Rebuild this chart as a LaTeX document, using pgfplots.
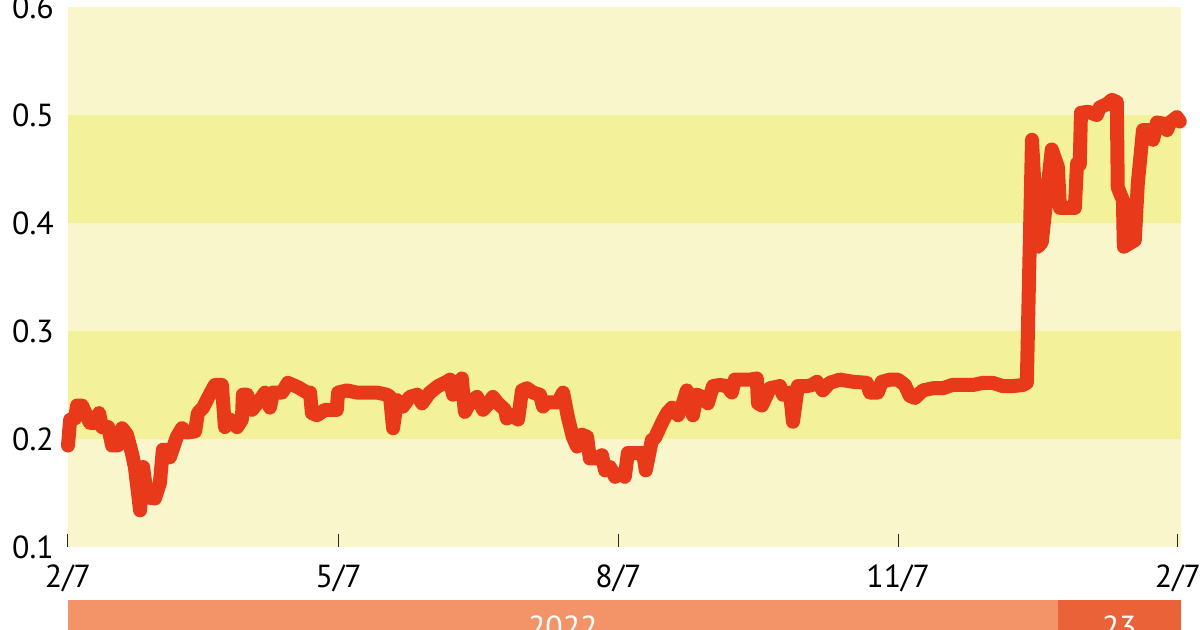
\documentclass[border=0pt]{standalone}
\usepackage{pgfplots}
\pgfplotsset{compat=1.18}
\usepackage{fontspec}
\setmainfont{PT Sans}
\definecolor{bandlight}{RGB}{249,246,203}
\definecolor{banddark}{RGB}{244,241,155}
\definecolor{linered}{RGB}{232,57,26}
\definecolor{yearlight}{RGB}{242,148,104}
\definecolor{yeardark}{RGB}{234,98,55}
\begin{document}
\begin{tikzpicture}
\begin{axis}[
  scale only axis,
  width=1113bp, height=540bp,
  xmin=0, xmax=366, ymin=0.1, ymax=0.6,
  clip=false,
  axis line style={draw=none},
  axis on top,
  xtick={0,89,181,273,365},
  xticklabels={2/7,5/7,8/7,11/7,2/7},
  ytick={0.1,0.2,0.3,0.4,0.5,0.6},
  yticklabels={0.1,0.2,0.3,0.4,0.5,0.6},
  xtick pos=left,
  tick align=inside,
  major tick length=13bp,
  xtick style={draw=black!85, line width=1bp},
  ytick style={draw=none},
  ticklabel style={font=\fontsize{32}{36}\selectfont, inner sep=0pt},
  yticklabel style={anchor=east, xshift=-14bp},
  xticklabel style={anchor=north, yshift=-18bp},
]
% background bands
\addplot[draw=none, fill=bandlight, forget plot] coordinates {(0,0.1)(366,0.1)(366,0.2)(0,0.2)} -- cycle;
\addplot[draw=none, fill=banddark, forget plot] coordinates {(0,0.2)(366,0.2)(366,0.3)(0,0.3)} -- cycle;
\addplot[draw=none, fill=bandlight, forget plot] coordinates {(0,0.3)(366,0.3)(366,0.4)(0,0.4)} -- cycle;
\addplot[draw=none, fill=banddark, forget plot] coordinates {(0,0.4)(366,0.4)(366,0.5)(0,0.5)} -- cycle;
\addplot[draw=none, fill=bandlight, forget plot] coordinates {(0,0.5)(366,0.5)(366,0.6)(0,0.6)} -- cycle;
% year bar
\addplot[draw=none, fill=yearlight, forget plot] coordinates {(0,-0.02)(325.5,-0.02)(325.5,0.051)(0,0.051)} -- cycle;
\addplot[draw=none, fill=yeardark, forget plot] coordinates {(325.5,-0.02)(366,-0.02)(366,0.051)(325.5,0.051)} -- cycle;
\node[anchor=base, text=white, font=\fontsize{32}{36}\selectfont, inner sep=0pt] at (axis cs:162.7,0.0157) {2022};
\node[anchor=base, text=white, font=\fontsize{32}{36}\selectfont, inner sep=0pt] at (axis cs:345.7,0.0157) {23};
% data line
\addplot[color=linered, line width=14bp, line join=round, line cap=round] coordinates {
(0,0.194)(0.7,0.218)(2.3,0.219)(3.0,0.231)(4.6,0.231)(7.2,0.215)(8.9,0.215)(10.2,0.224)
(11.2,0.211)(13.2,0.211)(14.5,0.194)(16.4,0.194)(17.8,0.210)(19.4,0.204)(21.0,0.187)
(22.0,0.174)(23.7,0.134)(24.7,0.174)(26.0,0.146)(28.6,0.145)(30.2,0.159)(31.2,0.190)
(32.6,0.190)(33.5,0.183)(35.8,0.202)(37.5,0.210)(39.1,0.206)(41.8,0.207)(42.7,0.224)
(44.4,0.229)(46.0,0.238)(48.3,0.250)(50.6,0.250)(51.6,0.211)(53.3,0.218)(55.6,0.211)
(57.2,0.218)(57.5,0.241)(58.9,0.241)(60.5,0.227)(63.1,0.236)(64.8,0.243)(66.4,0.229)
(67.4,0.243)(70.4,0.243)(72.3,0.252)(75.6,0.248)(78.6,0.243)(79.6,0.243)(80.2,0.224)
(81.9,0.222)(84.5,0.227)(88.4,0.227)(88.8,0.243)(91.7,0.245)(95.0,0.243)(98.3,0.243)
(101.6,0.243)(104.9,0.241)(105.9,0.239)(106.9,0.210)(108.2,0.236)(110.1,0.230)(112.4,0.239)
(114.8,0.241)(116.4,0.233)(119.0,0.243)(121.7,0.249)(124.6,0.253)(125.6,0.255)(126.6,0.241)
(128.2,0.243)(129.5,0.256)(130.5,0.225)(132.2,0.234)(134.5,0.239)(136.5,0.227)(138.1,0.232)
(139.7,0.239)(141.4,0.233)(143.7,0.227)(144.3,0.219)(146.0,0.222)(148.0,0.218)(149.3,0.245)
(150.9,0.247)(152.9,0.243)(155.2,0.241)(156.2,0.230)(157.5,0.234)(161.1,0.234)(162.8,0.243)
(164.4,0.220)(166.0,0.202)(167.4,0.193)(169.0,0.204)(170.7,0.202)(171.6,0.182)(173.9,0.182)
(175.6,0.185)(176.6,0.171)(178.2,0.174)(179.9,0.165)(182.2,0.168)(183.1,0.165)(184.1,0.187)
(188.1,0.187)(189.1,0.187)(190.0,0.171)(192.0,0.199)(193.0,0.201)(195.3,0.215)(197.0,0.224)
(198.6,0.229)(200.6,0.222)(202.2,0.233)(203.5,0.245)(204.5,0.238)(205.5,0.222)(206.8,0.241)
(208.5,0.239)(210.4,0.233)(212.1,0.249)(214.4,0.250)(216.7,0.249)(218.3,0.243)(219.3,0.255)
(221.9,0.255)(224.2,0.255)(226.5,0.256)(226.9,0.233)(228.2,0.231)(230.8,0.247)(234.1,0.249)
(235.1,0.241)(237.4,0.243)(238.4,0.216)(240.0,0.249)(243.0,0.249)(244.6,0.250)(246.3,0.253)
(248.2,0.245)(250.5,0.252)(253.8,0.255)(258.1,0.253)(262.7,0.252)(263.7,0.243)(266.3,0.243)
(267.6,0.253)(270.3,0.255)(272.9,0.255)(275.2,0.250)(276.8,0.240)(278.5,0.238)(281.1,0.245)
(284.4,0.247)(287.7,0.247)(290.7,0.250)(294.3,0.250)(297.6,0.250)(300.9,0.252)(304.1,0.252)
(307.4,0.249)(310.7,0.249)(314.0,0.250)(315.3,0.252)(317.0,0.477)(318.9,0.378)(320.2,0.382)
(323.5,0.468)(325.5,0.452)(326.2,0.414)(328.5,0.414)(331.1,0.414)(331.8,0.455)(332.7,0.454)
(333.1,0.502)(335.4,0.503)(338.3,0.500)(339.3,0.507)(341.6,0.510)(343.3,0.514)(344.9,0.512)
(345.2,0.433)(346.9,0.421)(347.2,0.378)(350.8,0.384)(351.8,0.437)(353.5,0.486)(355.8,0.486)
(356.8,0.477)(358.1,0.493)(360.1,0.492)(361.4,0.486)(362.4,0.493)(364.6,0.498)(365.6,0.494)
};
\coordinate (O) at (rel axis cs:0,0);
\end{axis}
\pgfresetboundingbox
\useasboundingbox ([shift={(-68bp,-83bp)}]O) rectangle ([shift={(1132bp,547bp)}]O);
\end{tikzpicture}
\end{document}
